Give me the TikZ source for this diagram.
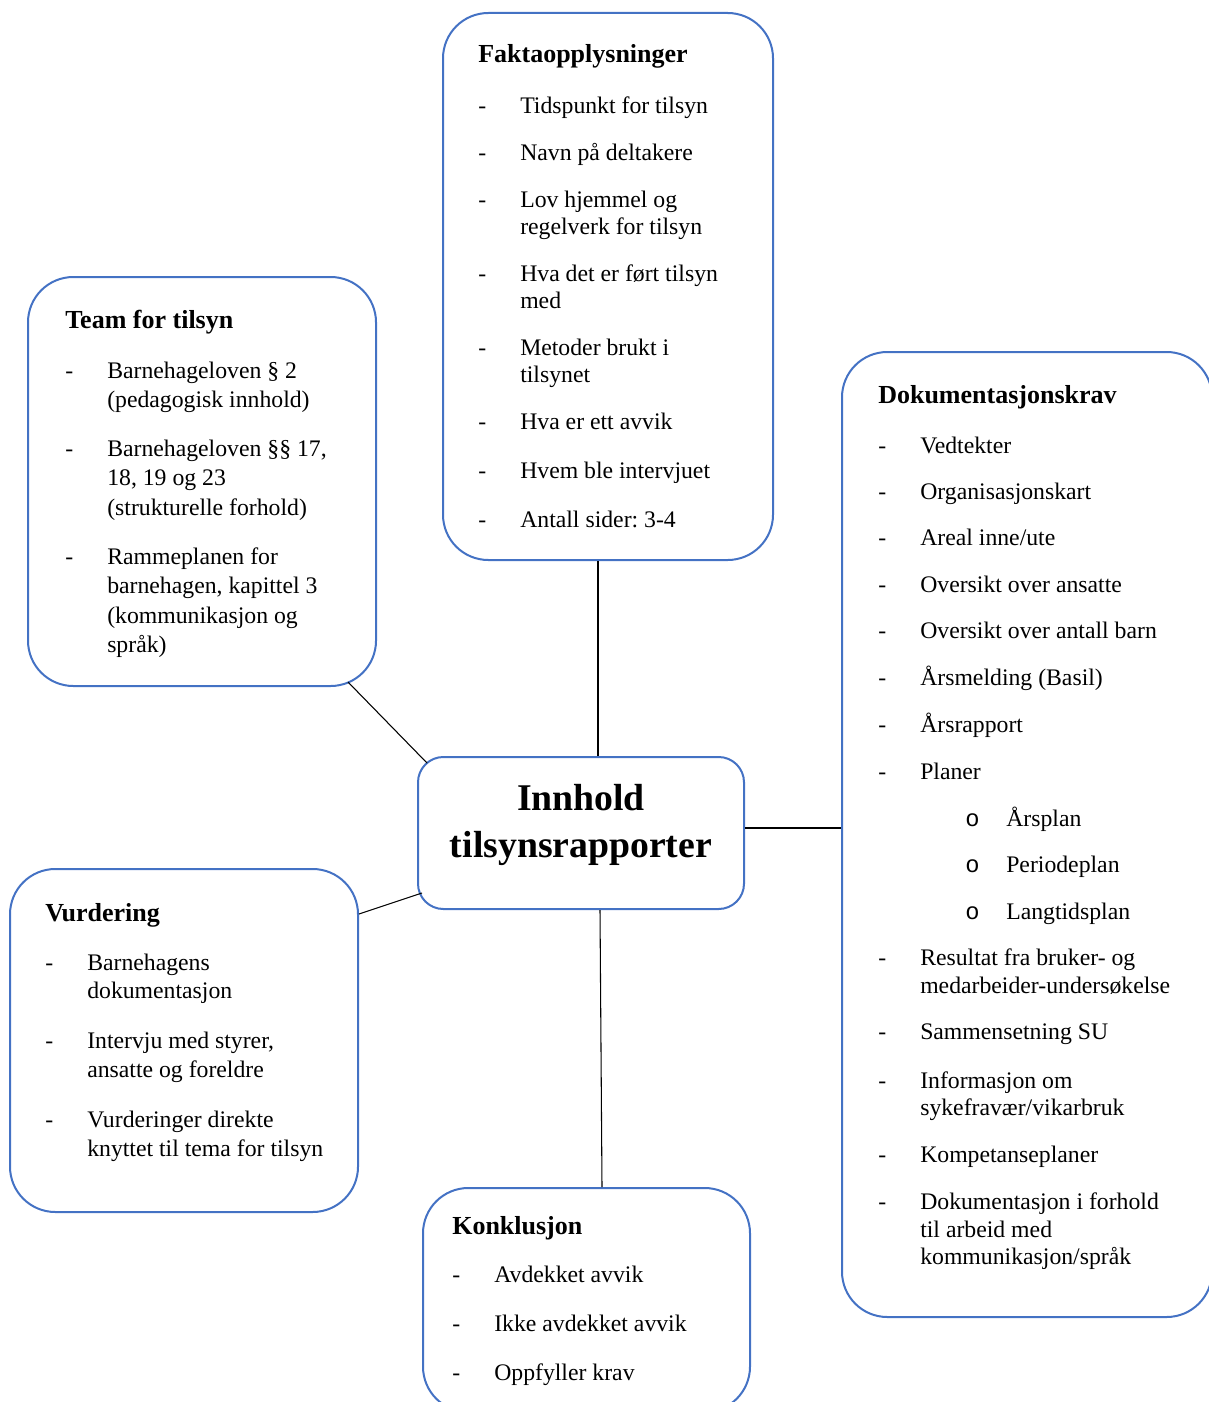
\documentclass[tikz,border=0pt]{standalone}
\usepackage{fontspec}
\setmainfont{Liberation Serif}
\setmonofont{Liberation Mono}
\usetikzlibrary{fit,calc}
\definecolor{boxblue}{HTML}{4472C4}
\tikzset{
  box/.style={draw=boxblue, line width=1.5pt, rounded corners=34pt, inner sep=0pt},
  txt/.style={anchor=base west, inner sep=0pt, font=\fontsize{17.8pt}{#1}\selectfont},
  link/.style={draw=black, line width=0.8pt}
}
\newcommand\planitem[1]{\hspace*{33.75pt}\makebox[30.75pt][l]{\ttfamily o}#1}
\newcommand\boxtitle[1]{\multicolumn{2}{@{}l@{}}{\fontsize{19.5pt}{20pt}\selectfont\bfseries #1}}
\frenchspacing
\begin{document}
\begin{tikzpicture}[x=0.75pt, y=-0.75pt]
	\useasboundingbox (0,0) rectangle (1209,1402);
	%boxes
	\node[box, fit={(443,13) (773,560)}] (fakta) {};
	\node[box, fit={(28,277) (376,686)}] (team) {};
	\node[box, fit={(842,352) (1212,1317)}] (dok) {};
	\node[box, rounded corners=19pt, fit={(418,757) (744,909)}] (centre) {};
	\node[box, fit={(10,869) (358,1212)}] (vurd) {};
	\node[box, fit={(423,1188) (750,1412)}] (konkl) {};
	%texts
	\node[anchor=base, inner sep=0pt, font=\fontsize{28.3pt}{35.25pt}\selectfont\bfseries] (centre-txt) at (581,810)
	{\begin{tabular}[t]{@{}c@{}}Innhold\\tilsynsrapporter\end{tabular}};
	\node[txt=20.25pt] (fakta-txt) at (478,63) {\begin{tabular}[t]{@{}p{31.5pt}@{}l@{}}
		\boxtitle{Faktaopplysninger}\\[17.5pt]
		- & Tidspunkt for tilsyn\\[15pt]
		- & Navn på deltakere\\[15pt]
		- & Lov hjemmel og\\
		  & regelverk for tilsyn\\[15pt]
		- & Hva det er ført tilsyn\\
		  & med\\[15pt]
		- & Metoder brukt i\\
		  & tilsynet\\[15pt]
		- & Hva er ett avvik\\[16.5pt]
		- & Hvem ble intervjuet\\[16.8pt]
		- & Antall sider: 3-4
	\end{tabular}};
	\node[txt=22.1pt] (team-txt) at (65,328) {\begin{tabular}[t]{@{}p{31.5pt}@{}l@{}}
		\boxtitle{Team for tilsyn}\\[15.4pt]
		- & Barnehageloven § 2\\
		  & (pedagogisk innhold)\\[14.5pt]
		- & Barnehageloven §§ 17,\\
		  & 18, 19 og 23\\
		  & (strukturelle forhold)\\[14.8pt]
		- & Rammeplanen for\\
		  & barnehagen, kapittel 3\\
		  & (kommunikasjon og\\
		  & språk)
	\end{tabular}};
	\node[txt=20.6pt] (dok-txt) at (878,403) {\begin{tabular}[t]{@{}p{31.5pt}@{}l@{}}
		\boxtitle{Dokumentasjonskrav}\\[16.9pt]
		- & Vedtekter\\[14.2pt]
		- & Organisasjonskart\\[14.2pt]
		- & Areal inne/ute\\[14.2pt]
		- & Oversikt over ansatte\\[14.4pt]
		- & Oversikt over antall barn\\[14.4pt]
		- & Årsmelding (Basil)\\[14.4pt]
		- & Årsrapport\\[14.4pt]
		- & Planer\\[14.4pt]
		  & \planitem{Årsplan}\\[14.4pt]
		  & \planitem{Periodeplan}\\[14.4pt]
		  & \planitem{Langtidsplan}\\[14.2pt]
		- & Resultat fra bruker- og\\
		  & medarbeider-undersøkelse\\[13.7pt]
		- & Sammensetning SU\\[16.1pt]
		- & Informasjon om\\
		  & sykefravær/vikarbruk\\[14.3pt]
		- & Kompetanseplaner\\[15pt]
		- & Dokumentasjon i forhold\\
		  & til arbeid med\\
		  & kommunikasjon/språk
	\end{tabular}};
	\node[txt=21.5pt] (vurd-txt) at (45,921) {\begin{tabular}[t]{@{}p{31.5pt}@{}l@{}}
		\boxtitle{Vurdering}\\[15.3pt]
		- & Barnehagens\\
		  & dokumentasjon\\[16pt]
		- & Intervju med styrer,\\
		  & ansatte og foreldre\\[16pt]
		- & Vurderinger direkte\\
		  & knyttet til tema for tilsyn
	\end{tabular}};
	\node[txt=20.25pt] (konkl-txt) at (452,1234) {\begin{tabular}[t]{@{}p{31.5pt}@{}l@{}}
		\boxtitle{Konklusjon}\\[15.8pt]
		- & Avdekket avvik\\[16.5pt]
		- & Ikke avdekket avvik\\[16.5pt]
		- & Oppfyller krav
	\end{tabular}};
	%links
	\draw[link] ($(fakta.south)+(-10,0)$) -- ($(centre.north)+(17,0)$);
	\draw[link] ($(team.south east)+(-29,-5)$) -- ($(centre.north west)+(10,7)$);
	\draw[link] ($(vurd.north east)+(0,46)$) -- ($(centre.south west)+(5,-17)$);
	\draw[link] ($(centre.east)+(0,-5)$) -- ($(dok.west)+(0,-6.5)$);
	\draw[link] ($(centre.south)+(19,0)$) -- ($(konkl.north)+(15.5,0)$);
\end{tikzpicture}
\end{document}
